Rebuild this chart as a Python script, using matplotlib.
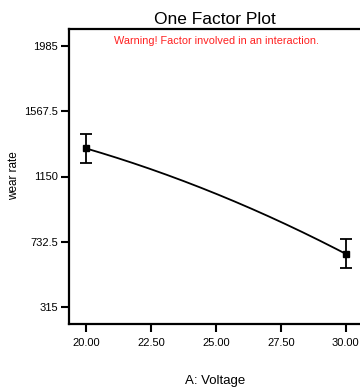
import numpy as np
import matplotlib
matplotlib.use("Agg")
import matplotlib.pyplot as plt

plt.rcParams['font.family'] = ['Liberation Sans', 'DejaVu Sans']

# Data
voltage_pts = [20.0, 25.0, 30.0]          # points used to trace the model curve
wear_pred = [1330.0, 1040.0, 655.0]       # predicted wear rate
design_x = [20.0, 30.0]                   # design levels with error bars
design_y = [1330.0, 655.0]
ci_low = [1239.0, 562.0]
ci_high = [1421.0, 748.0]
xticks = [20.0, 22.5, 25.0, 27.5, 30.0]
xtick_labels = ["20.00", "22.50", "25.00", "27.50", "30.00"]
yticks = [315, 732.5, 1150, 1567.5, 1985]
ytick_labels = ["315", "732.5", "1150", "1567.5", "1985"]

fig = plt.figure(figsize=(3.6, 3.9), dpi=100)
ax = fig.add_axes([69/360, 66/390, 291/360, 295/390])

coef = np.polyfit(voltage_pts, wear_pred, 2)
xs = np.linspace(design_x[0], design_x[-1], 200)
ax.plot(xs, np.polyval(coef, xs), color='black', lw=1.3)

yerr = [np.array(design_y) - np.array(ci_low), np.array(ci_high) - np.array(design_y)]
ax.errorbar(design_x, design_y, yerr=yerr, fmt='s', color='black', ms=4.5,
            capsize=4.5, elinewidth=1.3, capthick=1.3)

ax.set_xlim(19.35, 30.55)
ax.set_ylim(206, 2094)
ax.set_xticks(xticks)
ax.set_xticklabels(xtick_labels)
ax.set_yticks(yticks)
ax.set_yticklabels(ytick_labels)
ax.tick_params(direction='out', length=6, width=1.5, labelsize=8, pad=2)
ax.tick_params(axis='x', pad=4)
for s in ['left', 'bottom', 'top']:
    ax.spines[s].set_linewidth(1.6)
ax.spines['right'].set_visible(False)

fig.text(14/360, 1 - 176/390, "wear rate", ha='center', va='center',
         rotation=90, fontsize=8.5)
fig.text(215/360, 1 - 381/390, "A: Voltage", ha='center', va='center', fontsize=9.5)
fig.text(215/360, 1 - 19/390, "One Factor Plot", ha='center', va='center', fontsize=12.5)
fig.text(216/360, 1 - 40.5/390, "Warning! Factor involved in an interaction.",
         ha='center', va='center', fontsize=7.8, color='#ff2020')

fig.savefig("out.png", dpi=100)
